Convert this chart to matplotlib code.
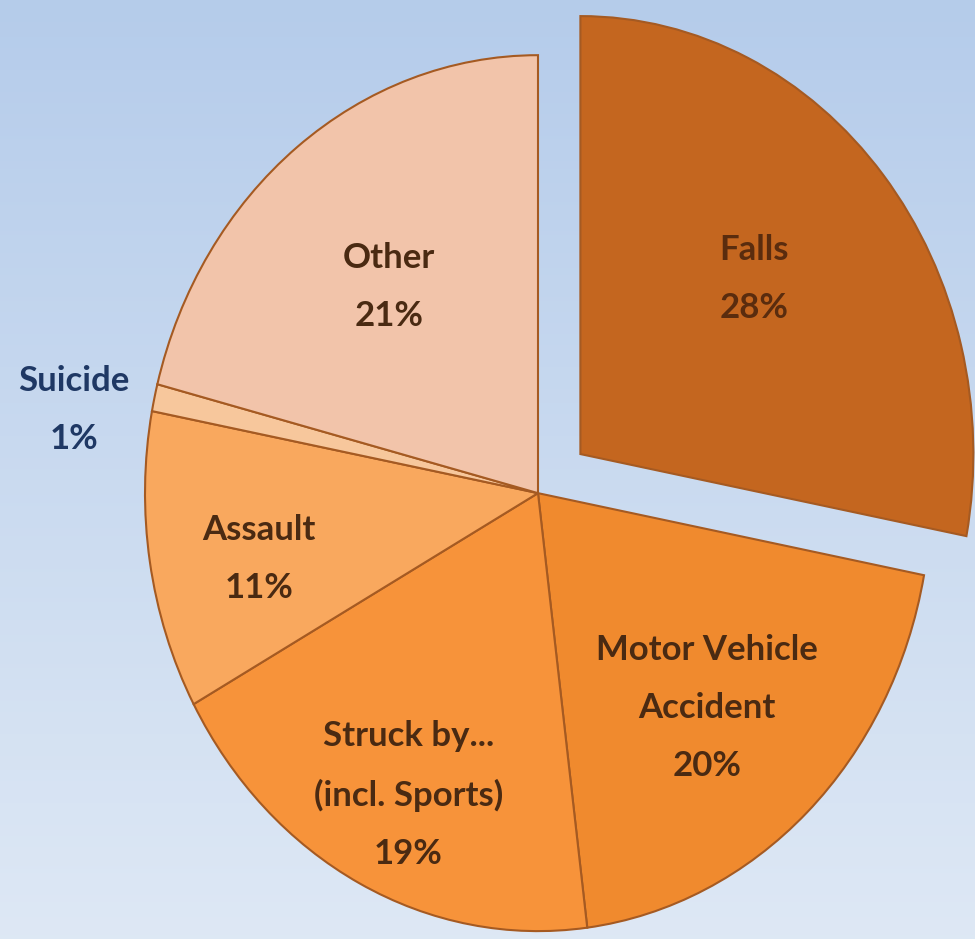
import matplotlib
matplotlib.use("Agg")
import matplotlib.pyplot as plt
import numpy as np

# data
categories = ["Falls", "Motor Vehicle\nAccident", "Struck by...\n(incl. Sports)",
              "Assault", "Suicide", "Other"]
shares = [28, 20, 19, 11, 1, 21]
colors = ["#c4661f", "#f08a2e", "#f7933a", "#f9a85e", "#f7c79c", "#f2c4aa"]
explode = [0.14, 0, 0, 0, 0, 0]

# label spots (data units, pie radius = 1)
label_pos = [(0.55, 0.49), (0.43, -0.49), (-0.33, -0.69),
             (-0.71, -0.15), (-1.18, 0.19), (-0.38, 0.47)]
label_col = ["#5a2c0e", "#4a2a12", "#4a2a12", "#4a2a12", "#1f3864", "#4a2a12"]

plt.rcParams["font.family"] = ["Lato", "DejaVu Sans"]

fig = plt.figure(figsize=(9.75, 9.39), dpi=100)

# background gradient
bg = fig.add_axes([0, 0, 1, 1])
grad = np.linspace(0, 1, 256)[:, None, None]
top = np.array([0.71, 0.80, 0.92])
bottom = np.array([0.87, 0.91, 0.96])
img = top + (bottom - top) * grad
bg.imshow(np.repeat(img, 2, axis=1), aspect="auto", extent=[0, 1, 0, 1])
bg.axis("off")

ax = fig.add_axes([0, 0, 1, 1])
ax.set_facecolor("none")
wedges, _ = ax.pie(shares, colors=colors, startangle=90, counterclock=False,
                   explode=explode,
                   wedgeprops=dict(edgecolor="#a55a22", linewidth=1.5))
ax.set_aspect("auto")
ax.set_xlim(-1.369, 1.112)
ax.set_ylim(-1.018, 1.126)
ax.axis("off")

for name, s, (x, y), c in zip(categories, shares, label_pos, label_col):
    ax.text(x, y, f"{name}\n{s}%", ha="center", va="center", fontsize=25,
            fontweight="bold", color=c, linespacing=2.0)

fig.savefig("out.png", dpi=100)
